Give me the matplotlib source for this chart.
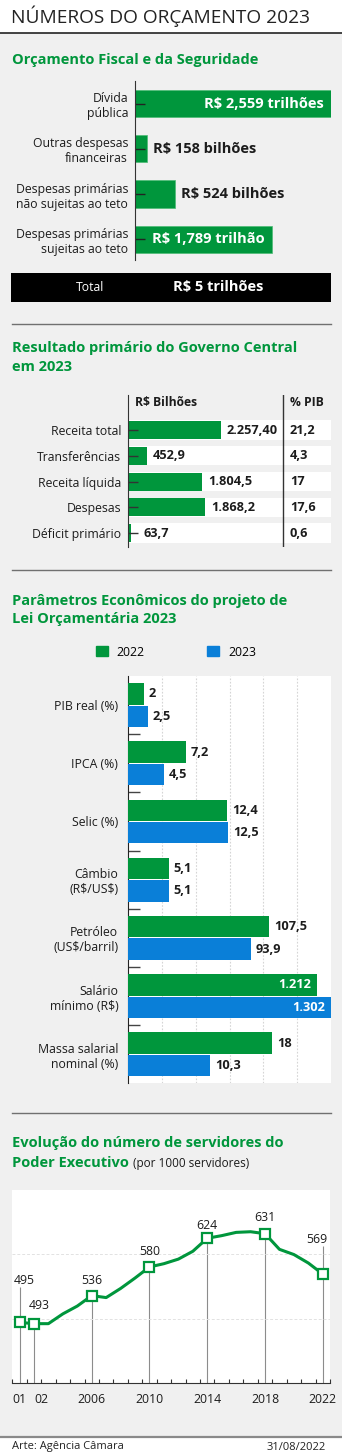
import numpy as np
import matplotlib
matplotlib.use("Agg")
import matplotlib.pyplot as plt
from matplotlib.patches import Rectangle, Patch
from matplotlib.lines import Line2D
from matplotlib.text import Annotation

plt.rcParams['font.family'] = ['Open Sans', 'DejaVu Sans']
plt.rcParams['text.parse_math'] = False

# ---------------- data ----------------
orc_labels = ['Dívida\npública', 'Outras despesas\nfinanceiras',
              'Despesas primárias\nnão sujeitas ao teto', 'Despesas primárias\nsujeitas ao teto']
orc_values = [2559, 158, 524, 1789]          # R$ bilhões
orc_total = 'R$ 5 trilhões'

res_labels = ['Receita total', 'Transferências', 'Receita líquida', 'Despesas', 'Déficit primário']
res_values = [2257.40, 452.9, 1804.5, 1868.2, 63.7]   # R$ bilhões
res_decimals = [2, 1, 1, 1, 1]
res_pib = [21.2, 4.3, 17, 17.6, 0.6]                 # % PIB

par_labels = ['PIB real (%)', 'IPCA (%)', 'Selic (%)', 'Câmbio\n(R$/US$)',
              'Petróleo\n(US$/barril)', 'Salário\nmínimo (R$)', 'Massa salarial\nnominal (%)']
par_2022 = [2, 7.2, 12.4, 5.1, 107.5, 1212, 18]
par_2023 = [2.5, 4.5, 12.5, 5.1, 93.9, 1302, 10.3]
par_axis_max = [25.4, 25.4, 25.4, 25.4, 155, 1302, 25.4]   # each row has its own scale

serv_years = list(range(2001, 2023))
serv_values = [495, 493, 493, 508, 520, 536, 533, 547, 563, 580, 585,
               592, 604, 624, 628, 633, 634, 631, 607, 599, 586, 569]
serv_marked = [2001, 2002, 2006, 2010, 2014, 2018, 2022]
serv_ticklabels = ['01', '02', '2006', '2010', '2014', '2018', '2022']

# ---------------- style ----------------
W, H, DPI = 342, 1456, 100
GREEN = '#00963c'
BLUE = '#0a7fd8'
PANEL = '#f0f0f0'
INK = '#1c1c1c'
RULE = '#707070'
LABEL_SIZE = 8.8
PT = 72 / DPI   # points per pixel


def br(v, d):
    s = f"{v:,.{d}f}"
    return s.replace(',', '#').replace('.', ',').replace('#', '.')


def brg(v):
    return br(v, 0 if float(v).is_integer() else 1)


fig = plt.figure(figsize=(W / DPI, H / DPI), dpi=DPI)
fig.patch.set_facecolor('white')


def frect(x0, y0, x1, y1):
    return [x0 / W, 1 - y1 / H, (x1 - x0) / W, (y1 - y0) / H]


def fx(x):
    return x / W


def fy(y):
    return 1 - y / H


# page background, header and footer rules
fig.add_artist(Rectangle((0, fy(1436)), 1, fy(33) - fy(1436), transform=fig.transFigure,
                         facecolor=PANEL, edgecolor='none', zorder=0))
fig.add_artist(Line2D([0, 1], [fy(33)] * 2, color='#111111', lw=1.1, transform=fig.transFigure))
fig.add_artist(Line2D([0, 1], [fy(1436.5)] * 2, color='#8a8a8a', lw=1.6, transform=fig.transFigure))
for yy in (324, 570, 1113):
    fig.add_artist(Line2D([fx(12), fx(331)], [fy(yy)] * 2, color=RULE, lw=1.0,
                          transform=fig.transFigure))

fig.text(fx(11), fy(16.5), 'NÚMEROS DO ORÇAMENTO 2023', fontsize=13.8, color='#222222',
         va='center', ha='left')


def title(y, s):
    return fig.text(fx(12), fy(y), s, fontsize=10.5, color=GREEN, weight='bold', va='center')


# ================= Orçamento Fiscal e da Seguridade =================
title(60, 'Orçamento Fiscal e da Seguridade')
ax1 = fig.add_axes(frect(135, 81, 331, 260))
ax1.set_facecolor('none')
pos = np.arange(len(orc_values))
ax1.barh(pos, orc_values, height=0.6, color=GREEN, edgecolor='#4dbb75', lw=0.5)
ax1.set_xlim(0, max(orc_values))
ax1.set_ylim(3.46, -0.5)
for s in ('top', 'right', 'bottom'):
    ax1.spines[s].set_visible(False)
ax1.spines['left'].set_color('#333333')
ax1.xaxis.set_visible(False)
ax1.set_yticks(pos, orc_labels)
ax1.tick_params(axis='y', direction='in', length=7, width=1, color='#222222', pad=5,
                labelsize=LABEL_SIZE, labelcolor=INK)
for i, v in enumerate(orc_values):
    if v >= 1000:
        unit = 'trilhões' if v >= 2000 else 'trilhão'
        txt = f"R$ {br(v / 1000, 3).replace('.', ',')} {unit}"
    else:
        txt = f"R$ {v:.0f} bilhões"
    if v > 1000:
        ax1.annotate(txt, (v, i), xytext=(-7 * PT, 0), textcoords='offset points',
                     ha='right', va='center', color='white', weight='bold', fontsize=10.5)
    else:
        ax1.annotate(txt, (v, i), xytext=(6 * PT, 0), textcoords='offset points',
                     ha='left', va='center', color=INK, weight='bold', fontsize=10.5)

fig.add_artist(Rectangle((fx(11), fy(302)), fx(331) - fx(11), fy(273) - fy(302),
                         transform=fig.transFigure, facecolor='black', edgecolor='none'))
fig.text(fx(90), fy(287.5), 'Total', color='white', fontsize=LABEL_SIZE, ha='center', va='center')
fig.text(fx(218), fy(287.5), orc_total, color='white', fontsize=10.5, weight='bold',
         ha='center', va='center')

# ================= Resultado primário =================
title(348, 'Resultado primário do Governo Central')
title(367, 'em 2023')
ax2_x0, ax2_x1 = 128, 331
ax2 = fig.add_axes(frect(ax2_x0, 395, ax2_x1, 547))
ax2.set_facecolor('none')
pos = np.arange(len(res_values))
res_xmax = 4930
ax2.set_xlim(0, res_xmax)
ax2.set_ylim(4.54, -1.36)
for i in pos:
    ax2.axhspan(i - 0.375, i + 0.375, color='white', zorder=0.5, lw=0)
ax2.barh(pos, res_values, height=0.70, color=GREEN, zorder=1)
for s in ('top', 'right', 'bottom'):
    ax2.spines[s].set_visible(False)
ax2.spines['left'].set_color('#333333')
ax2.xaxis.set_visible(False)
ax2.set_yticks(pos, res_labels)
ax2.tick_params(axis='y', direction='in', length=7, width=1, color='#333333', pad=5,
                labelsize=LABEL_SIZE, labelcolor=INK)
col_pib = 0.7635
ax2.plot([col_pib, col_pib], [0, 1], transform=ax2.transAxes, color='#333333', lw=1)
yt = ax2.get_yaxis_transform()
ax2.text(0.0345, -1.05, 'R$ Bilhões', transform=yt, weight='bold', fontsize=8.7,
         va='center', color=INK)
ax2.text(0.798, -1.05, '% PIB', transform=yt, weight='bold', fontsize=8.7,
         va='center', color=INK)
px_per_val = (ax2_x1 - ax2_x0) / res_xmax
for i, (v, d, p) in enumerate(zip(res_values, res_decimals, res_pib)):
    gap = max(6, 16 - v * px_per_val)   # keep short bars' labels clear of the tick
    ax2.annotate(br(v, d), (v, i), xytext=(gap * PT, 0), textcoords='offset points',
                 ha='left', va='center', weight='bold', fontsize=9.2, color=INK)
    ax2.text(0.798, i, brg(p), transform=yt, ha='left', va='center', weight='bold',
             fontsize=9.2, color=INK)

# ================= Parâmetros econômicos =================
title(601, 'Parâmetros Econômicos do projeto de')
title(619, 'Lei Orçamentária 2023')
fig.legend(handles=[Patch(color=GREEN), Patch(color=BLUE)], labels=['2022', '2023'],
           ncol=2, loc='center', bbox_to_anchor=(fx(176), fy(652)), frameon=False,
           fontsize=LABEL_SIZE, handlelength=1.0, handleheight=0.85, handletextpad=0.7,
           columnspacing=5.1)

top, bottom = 676, 1083.4
n = len(par_labels)
step = (bottom - top) / n
axp = fig.add_axes(frect(128, top, 331, bottom))
axp.set_facecolor('white')
axp.set_xlim(0, 6)
axp.set_ylim(n, 0)
axp.set_xticks(range(1, 6))
axp.grid(axis='x', ls=(0, (1.5, 1.5)), color='#d5d5d5', lw=0.8)
axp.tick_params(axis='x', length=0, labelbottom=False)
axp.set_yticks(np.arange(n) + 0.5, par_labels)
axp.set_yticks(np.arange(1, n), minor=True)
axp.tick_params(axis='y', which='major', length=0, pad=7, labelsize=LABEL_SIZE, labelcolor=INK)
axp.tick_params(axis='y', which='minor', direction='in', length=8.5, width=1, color='#444444')
for s in ('top', 'right', 'bottom'):
    axp.spines[s].set_visible(False)
axp.spines['left'].set_color('#222222')

for i in range(n):
    axg = fig.add_axes(frect(128, top + step * i, 331, top + step * (i + 1)))
    axg.set_facecolor('none')
    axg.axis('off')
    axg.set_xlim(0, par_axis_max[i])
    axg.set_ylim(1.805, -0.805)
    for j, (v, c) in enumerate(((par_2022[i], GREEN), (par_2023[i], BLUE))):
        axg.barh([j], [v], height=0.96, color=c)
        if v / par_axis_max[i] > 0.85:
            axg.annotate(brg(v), (v, j), xytext=(-6 * PT, 0), textcoords='offset points',
                         ha='right', va='center', weight='bold', fontsize=9.2, color='white')
        else:
            axg.annotate(brg(v), (v, j), xytext=(5 * PT, 0), textcoords='offset points',
                         ha='left', va='center', weight='bold', fontsize=9.2, color=INK)

# ================= Servidores do Poder Executivo =================
title(1143, 'Evolução do número de servidores do')
t4 = title(1163, 'Poder Executivo')
fig.add_artist(Annotation('(por 1000 servidores)', xy=(1, 0.5), xycoords=t4,
                          xytext=(4 * PT, 0), textcoords='offset points',
                          va='center', ha='left', fontsize=8.5, color=INK))

ax4 = fig.add_axes(frect(12.3, 1190, 330, 1383))
ax4.set_facecolor('white')
ax4.set_xlim(2000.5, 2022.5)
ax4.set_ylim(402, 698)
ax4.set_yticks([500, 600])
ax4.grid(axis='y', color='#e2e2e2', ls=(0, (3, 2)), lw=0.7)
ax4.tick_params(axis='y', length=0, labelleft=False)
for s in ('top', 'right', 'left'):
    ax4.spines[s].set_visible(False)
ax4.spines['bottom'].set_color('#333333')
ax4.set_xticks(serv_marked, serv_ticklabels)
ax4.set_xticks(np.arange(2000.5, 2023, 1), minor=True)
ax4.tick_params(axis='x', which='major', length=0, pad=7, labelsize=LABEL_SIZE, labelcolor=INK)
ax4.tick_params(axis='x', which='minor', direction='in', length=3, width=0.8, color='#333333')
ax4.get_xticklabels()[1].set_horizontalalignment('left')

px_per_unit = (1383 - 1190) / (698 - 402)
marked_vals = [serv_values[serv_years.index(y)] for y in serv_marked]
label_dx = [4.5, 5, 0, 0, 0, 0, -6.4]      # px
label_dy = [42, 18, 15, 15, 13, 16, 35]    # px
stem_top = [v + (dy - 7) / px_per_unit if dy > 25 else v
            for v, dy in zip(marked_vals, label_dy)]
ax4.vlines(serv_marked, 402, stem_top, color='#8c8c8c', lw=0.8, zorder=1)
ax4.plot(serv_years, serv_values, color=GREEN, lw=2.2, zorder=2, solid_joinstyle='round')
ax4.plot(serv_marked, marked_vals, 's', ms=6.5, mfc='white', mec=GREEN, mew=1.6, zorder=3)
for yr, v, dx, dy in zip(serv_marked, marked_vals, label_dx, label_dy):
    ax4.annotate(str(v), (yr, v), xytext=(dx * PT, dy * PT), textcoords='offset points',
                 ha='center', va='center', fontsize=LABEL_SIZE, color=INK)

fig.text(fx(12), fy(1447), 'Arte: Agência Câmara', fontsize=8, color='#222222', va='center')
fig.text(fx(326), fy(1447), '31/08/2022', fontsize=8, color='#222222', va='center', ha='right')

fig.savefig('out.png', dpi=DPI, facecolor=fig.get_facecolor())
